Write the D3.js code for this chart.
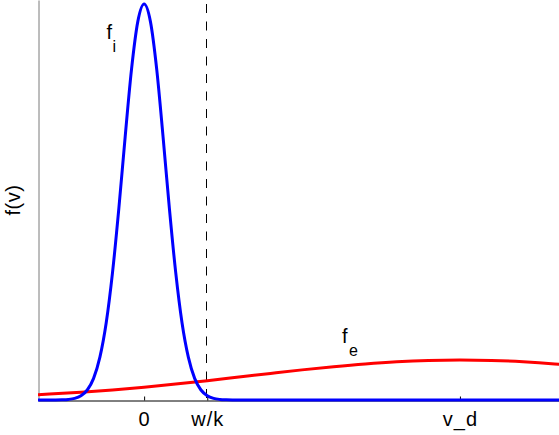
<!DOCTYPE html>
<html>
<head>
<meta charset="utf-8">
<script src="https://cdn.jsdelivr.net/npm/d3@7"></script>
<style>
  html, body { margin: 0; padding: 0; background: #fff; }
  svg { display: block; }
  text { font-family: "Liberation Sans", Arial, Helvetica, sans-serif; }
</style>
</head>
<body>
<svg id="chart" width="559" height="435"></svg>
<script>
// ---- data ----
const tickValues = [0, 1, 5];
const tickLabels = ["0", "w/k", "v_d"];
const wOverK = 1;

// ion distribution f_i (narrow, centred at 0)
const ionV = [-1.68, -1.4, -1.3, -1.2, -1.1, -1.0, -0.9, -0.8, -0.7, -0.6, -0.5, -0.4, -0.3, -0.2, -0.1, 0,
              0.1, 0.2, 0.3, 0.4, 0.5, 0.6, 0.7, 0.8, 0.9, 1.0, 1.1, 1.2, 1.3, 1.4, 6.6];
const ionF = [0, 0, 0.0004, 0.0014, 0.0041, 0.0107, 0.025, 0.054, 0.107, 0.193, 0.319, 0.479, 0.658, 0.826, 0.946, 0.99,
              0.946, 0.826, 0.658, 0.479, 0.319, 0.193, 0.107, 0.054, 0.025, 0.0107, 0.0041, 0.0014, 0.0004, 0, 0];

// electron distribution f_e (broad, drifting at v_d)
const eleV = [-1.68, -1.5, -1.0, -0.5, 0, 0.5, 1.0, 1.5, 2.0, 2.5, 3.0, 3.5, 4.0, 4.5, 5.0, 5.5, 6.0, 6.5, 6.6];
const eleF = [0.0131, 0.0147, 0.0195, 0.0253, 0.0321, 0.0398, 0.0483, 0.0573, 0.0664, 0.0753, 0.0834, 0.0903,
              0.0956, 0.0989, 0.1, 0.0989, 0.0956, 0.0903, 0.089];

// ---- chart ----
const svg = d3.select("#chart");
const x = d3.scaleLinear().domain([-1.68, 6.6]).range([38, 561]);
const y = d3.scaleLinear().domain([0, 1]).range([400, 0]);

svg.append("defs").append("clipPath").attr("id", "plotclip")
  .append("rect").attr("x", 38).attr("y", 0).attr("width", 523).attr("height", 402);

// dashed w/k line
const xw = Math.floor(x(wOverK)) - 0.5;
svg.append("line")
  .attr("x1", xw).attr("x2", xw)
  .attr("y1", 4).attr("y2", 400)
  .attr("stroke", "#000").attr("stroke-width", 1)
  .attr("stroke-dasharray", "9,8.5");

// axes
const xAxis = d3.axisBottom(x)
  .tickValues(tickValues)
  .tickFormat((d, i) => tickLabels[i])
  .tickSizeInner(-4).tickSizeOuter(0);
const gx = svg.append("g").attr("transform", "translate(0,400.5)").call(xAxis);
gx.select(".domain").attr("stroke", "#000");
gx.selectAll(".tick line").attr("stroke", "#000");
gx.selectAll(".tick text")
  .attr("y", 25).attr("dy", 0)
  .attr("font-size", 20).attr("fill", "#000")
  .attr("letter-spacing", 1)
  .style("font-family", '"Liberation Sans", Arial, sans-serif');

const yAxis = d3.axisLeft(y).tickValues([]).tickSizeOuter(0);
const gy = svg.append("g").attr("transform", "translate(38.5,0)").call(yAxis);
gy.select(".domain").attr("stroke", "#7a7a7a");

// curves
const line = d3.line().x(d => x(d[0])).y(d => y(d[1])).curve(d3.curveMonotoneX);
const plot = svg.append("g").attr("clip-path", "url(#plotclip)");

plot.append("path")
  .datum(eleV.map((v, i) => [v, eleF[i]]))
  .attr("d", line).attr("fill", "none")
  .attr("stroke", "#ff0000").attr("stroke-width", 3);

plot.append("path")
  .datum(ionV.map((v, i) => [v, ionF[i]]))
  .attr("d", line).attr("fill", "none")
  .attr("stroke", "#0000ff").attr("stroke-width", 3);

// labels
svg.append("text")
  .attr("transform", "translate(19.5,200) rotate(-90)")
  .attr("text-anchor", "middle")
  .attr("font-size", 20).attr("fill", "#000")
  .attr("letter-spacing", 0.5)
  .text("f(v)");

function subLabel(px, py, main, sub, dx, dy) {
  const t = svg.append("text").attr("x", px).attr("y", py).attr("fill", "#000");
  t.append("tspan").attr("font-size", 20).text(main);
  t.append("tspan").attr("font-size", 16).attr("dx", dx).attr("dy", dy).text(sub);
}
subLabel(106.5, 39, "f", "i", 0.5, 13);
subLabel(342, 343, "f", "e", 1.5, 12.5);
</script>
</body>
</html>
